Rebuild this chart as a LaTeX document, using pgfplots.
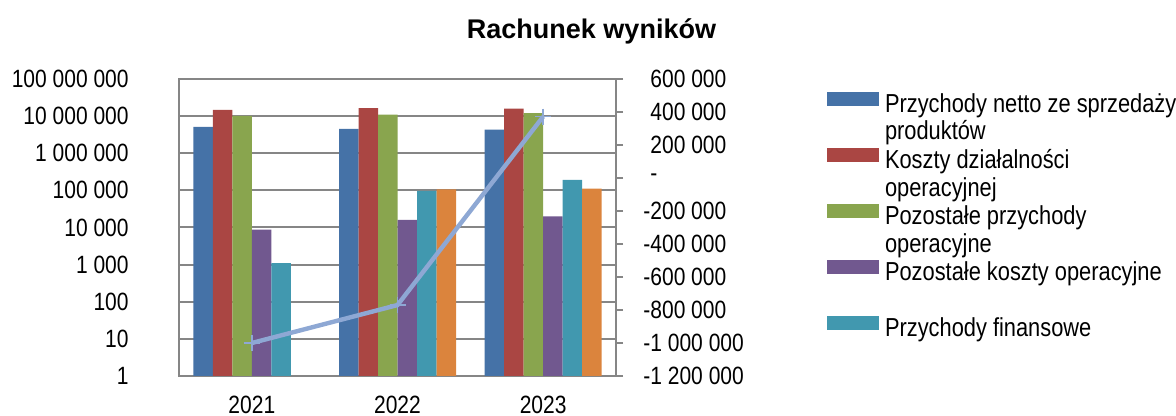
\documentclass[border=0pt]{standalone}
\usepackage{fontspec}
\setmainfont[FakeStretch=0.84]{Liberation Sans}
\newfontfamily\titlefont{Liberation Sans}
\usepackage{pgfplots}
\pgfplotsset{compat=1.18}
\definecolor{cBlue}{HTML}{4572A7}
\definecolor{cRed}{HTML}{AA4643}
\definecolor{cGreen}{HTML}{89A54E}
\definecolor{cPurple}{HTML}{71588F}
\definecolor{cTeal}{HTML}{4198AF}
\definecolor{cOrange}{HTML}{DB843D}
\definecolor{cLine}{HTML}{8EA8D4}
\definecolor{cGrid}{HTML}{868686}
\pgfplotsset{sw/.style={legend image code/.code={\fill[##1,/tikz/.cd] (0pt,0pt) rectangle (26pt,7pt);}}}
\begin{document}
\begin{tikzpicture}
\path[use as bounding box] (0,0) rectangle (588pt,208pt);
\node[font=\titlefont\bfseries\fontsize{13.5}{16}\selectfont, anchor=base, inner sep=0pt] at (295.75pt,188.8pt) {Rachunek wyników};
\begin{axis}[
  at={(89.5pt,20pt)}, anchor=south west,
  scale only axis, width=218.5pt, height=148.5pt,
  ymode=log, ymin=1, ymax=1e8,
  xmin=-0.5, xmax=2.5,
  ybar, bar width=9.75pt,
  xtick={0,1,2}, xticklabels={2021,2022,2023},
  ytick={1,10,100,1000,10000,100000,1000000,10000000,100000000},
  yticklabels={1,10,100,1 000,10 000,100 000,1 000 000,10 000 000,100 000 000},
  yminorticks=false,
  major tick length=0pt,
  ymajorgrids, grid style={cGrid, line width=1pt},
  axis line style={cGrid, line width=1pt},
  yticklabel style={anchor=east, inner sep=0pt, xshift=-25pt},
  xticklabel style={anchor=north, inner sep=0pt, yshift=-9.8pt},
  tick label style={font=\fontsize{12.5}{15}\selectfont, text=black},
  legend cell align=left,
  legend style={at={(1.48284,0.956229)}, anchor=north west, draw=none, fill=none,
    inner sep=0pt, outer sep=0pt, row sep=0pt, column sep=3pt,
    font=\fontsize{13}{15.6}\selectfont,
    nodes={inner sep=0pt, text height=10pt, text depth=4pt}},
]
\addplot[fill=cBlue, draw=none, bar shift=-24.375pt, sw] coordinates {(0,5100000) (1,4500000) (2,4300000)};
\addlegendentry{Przychody netto ze sprzedaży}
\addlegendimage{empty legend}
\addlegendentry{produktów}
\addplot[fill=cRed, draw=none, bar shift=-14.625pt, sw] coordinates {(0,14800000) (1,16500000) (2,16000000)};
\addlegendentry{Koszty działalności}
\addlegendimage{empty legend}
\addlegendentry{operacyjnej}
\addplot[fill=cGreen, draw=none, bar shift=-4.875pt, sw] coordinates {(0,10200000) (1,10900000) (2,12000000)};
\addlegendentry{Pozostałe przychody}
\addlegendimage{empty legend}
\addlegendentry{operacyjne}
\addplot[fill=cPurple, draw=none, bar shift=4.875pt, sw] coordinates {(0,8700) (1,16000) (2,20000)};
\addlegendentry{Pozostałe koszty operacyjne}
\addlegendimage{empty legend}
\addlegendentry{}
\addplot[fill=cTeal, draw=none, bar shift=14.625pt, sw] coordinates {(0,1090) (1,97000) (2,191000)};
\addlegendentry{Przychody finansowe}
\addplot[fill=cOrange, draw=none, bar shift=24.375pt, forget plot] coordinates {(1,107000) (2,112000)};
\end{axis}
\begin{axis}[
  at={(89.5pt,20pt)}, anchor=south west,
  scale only axis, width=218.5pt, height=148.5pt,
  xmin=-0.5, xmax=2.5,
  ymin=-1200000, ymax=600000,
  scaled y ticks=false,
  axis y line*=right, axis x line=none,
  ytick={-1200000,-1000000,-800000,-600000,-400000,-200000,0,200000,400000,600000},
  yticklabels={-1 200 000,-1 000 000,-800 000,-600 000,-400 000,-200 000,\phantom{-}-,\phantom{-}200 000,\phantom{-}400 000,\phantom{-}600 000},
  tick align=outside, major tick length=3.5pt,
  tick style={cGrid, line width=1pt},
  axis line style={cGrid, line width=1pt},
  yticklabel style={anchor=west, inner sep=0pt, xshift=10pt, font=\fontsize{12.5}{15}\selectfont, text=black},
]
\addplot[color=cLine, line width=2.2pt, mark=+, mark size=4pt, mark options={line width=0.7pt}] coordinates {(0,-1000000) (1,-770000) (2,372000)};
\end{axis}
\end{tikzpicture}
\end{document}
